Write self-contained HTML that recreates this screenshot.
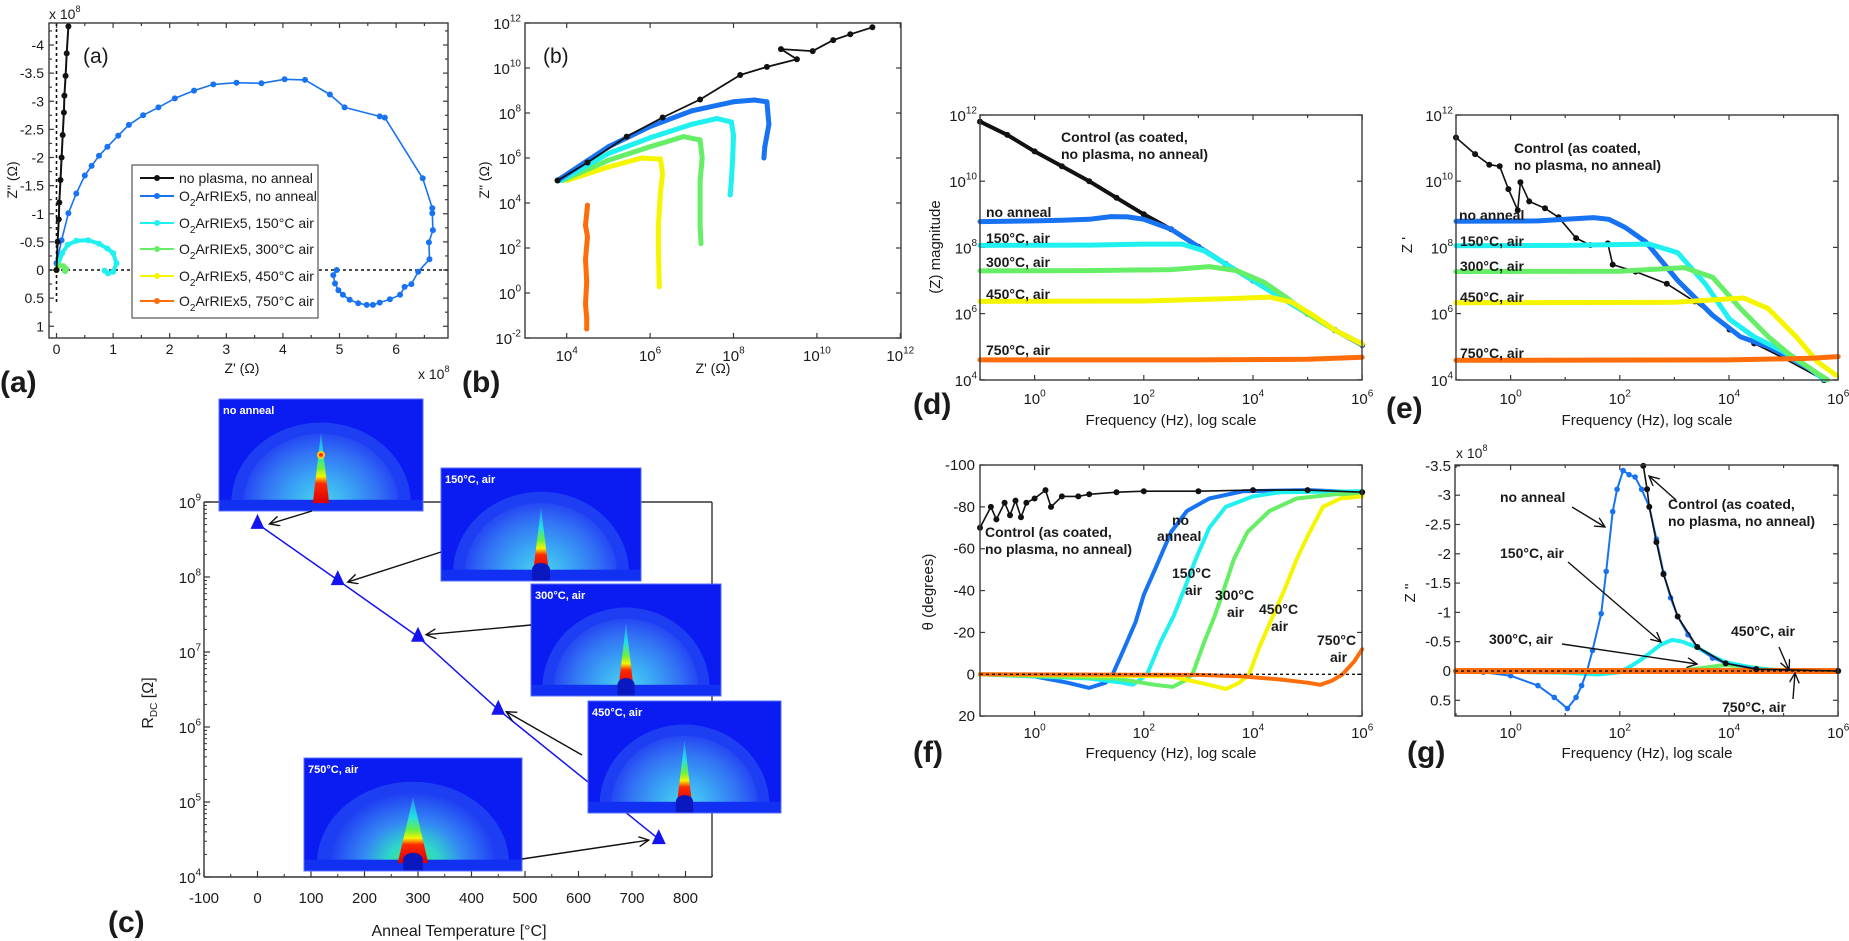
<!DOCTYPE html>
<html><head><meta charset="utf-8"><title>Impedance figure</title>
<style>html,body{margin:0;padding:0;background:#fff;}svg{display:block;}</style></head>
<body>
<svg id="fig" width="1849" height="941" viewBox="0 0 1849 941" xmlns="http://www.w3.org/2000/svg" font-family="'Liberation Sans', Arial, sans-serif">
<defs id="defs">
<marker id="arr" markerWidth="12" markerHeight="12" refX="10" refY="5" orient="auto" markerUnits="userSpaceOnUse"><path d="M0,0 L10,5 L0,10" fill="none" stroke="#111" stroke-width="1.4"/></marker>
<radialGradient id="dome" cx="0.5" cy="0.5" r="0.5"><stop offset="0" stop-color="#4ad8f0"/><stop offset="0.4" stop-color="#3aa6f4"/><stop offset="0.75" stop-color="#3272f4"/><stop offset="1" stop-color="#2548f3"/></radialGradient>
<radialGradient id="dome750" cx="0.5" cy="0.5" r="0.5"><stop offset="0" stop-color="#3cf05a"/><stop offset="0.3" stop-color="#2fd8c8"/><stop offset="0.6" stop-color="#3488f4"/><stop offset="1" stop-color="#2040f3"/></radialGradient>
<linearGradient id="spike" x1="0" y1="0" x2="0" y2="1"><stop offset="0" stop-color="#2a8cf5"/><stop offset="0.3" stop-color="#22e0e0"/><stop offset="0.5" stop-color="#6af040"/><stop offset="0.62" stop-color="#f5f500"/><stop offset="0.72" stop-color="#ff2a00"/><stop offset="1" stop-color="#d80000"/></linearGradient>
</defs>
</svg>
<script>
const NS='http://www.w3.org/2000/svg';
const svg=document.getElementById('fig');
const defs=document.getElementById('defs');

// ---------------- DATA ----------------
const aBlack=[[0,0],[0.02,-0.5],[0.04,-0.9],[0.05,-1.2],[0.07,-1.6],[0.09,-2.0],[0.11,-2.4],[0.13,-2.8],[0.14,-3.1],[0.16,-3.45],[0.18,-3.85],[0.21,-4.33]];
const aBlue=[[0,-0.12],[0.09,-0.53],[0.21,-1.01],[0.35,-1.36],[0.5,-1.68],[0.62,-1.85],[0.75,-2.03],[0.9,-2.19],[1.09,-2.39],[1.28,-2.58],[1.53,-2.75],[1.8,-2.89],[2.09,-3.05],[2.43,-3.19],[2.77,-3.3],[3.18,-3.33],[3.62,-3.32],[4.03,-3.39],[4.39,-3.38],[4.83,-3.12],[5.09,-2.89],[5.71,-2.73],[5.8,-2.71],[6.47,-1.63],[6.64,-1.1],[6.64,-1.01],[6.65,-0.71],[6.58,-0.49],[6.59,-0.19],[6.39,0.03],[6.27,0.25],[6.15,0.3],[6.07,0.44],[5.89,0.52],[5.71,0.58],[5.59,0.62],[5.48,0.62],[5.33,0.59],[5.18,0.53],[5.06,0.44],[4.98,0.36],[4.92,0.24],[4.89,0.09],[4.95,0]];
const aCyan=[[0,0],[0.03,-0.1],[0.1,-0.3],[0.2,-0.45],[0.35,-0.52],[0.56,-0.53],[0.75,-0.47],[0.9,-0.38],[1.0,-0.3],[1.06,-0.12],[1.0,0.03],[0.91,0.06],[0.85,0.01]];
const aGreen=[[0,0],[0.05,-0.08],[0.12,-0.07],[0.17,-0.02],[0.15,0.02]];
const aYellow=[[0,0]];
const aOrange=[[0,0]];
const aTicksY=[-4,-3.5,-3,-2.5,-2,-1.5,-1,-0.5,0,0.5,1];
const aTicksX=[0,1,2,3,4,5,6];
const aLegend=['no plasma, no anneal','O|2|ArRIEx5, no anneal','O|2|ArRIEx5, 150°C air','O|2|ArRIEx5, 300°C air','O|2|ArRIEx5, 450°C air','O|2|ArRIEx5, 750°C air'];

const bBlack=[[3.78,5.0],[4.5,5.8],[5.44,6.95],[6.3,7.8],[7.2,8.6],[8.16,9.69],[8.8,10.05],[9.52,10.39],[9.14,10.84],[9.9,10.75],[10.39,11.24],[10.8,11.5],[11.33,11.81]];
const bBlue=[[3.78,5.0],[5.0,6.5],[6.0,7.4],[7.0,8.1],[8.0,8.5],[8.5,8.58],[8.8,8.5],[8.85,7.5],[8.8,7.0],[8.75,6.5],[8.73,6.0]];
const bCyan=[[3.85,5.0],[5,6.2],[6,6.9],[7,7.5],[7.6,7.75],[7.95,7.6],[8.0,7.0],[7.98,6.0],[7.95,5.0],[7.92,4.36]];
const bGreen=[[3.9,5.0],[5,5.9],[6,6.5],[6.8,6.95],[7.2,6.8],[7.25,6],[7.2,5],[7.2,4],[7.2,3],[7.22,2.2]];
const bYellow=[[4.0,5.0],[5,5.6],[5.8,6.0],[6.25,5.95],[6.3,5.3],[6.25,4.5],[6.2,3],[6.2,2],[6.22,0.28]];
const bOrange=[[4.5,3.9],[4.45,3.0],[4.5,2.5],[4.45,1.5],[4.48,0.5],[4.45,-0.5],[4.48,-1.1],[4.48,-1.6]];
const bTicksY=[-2,0,2,4,6,8,10,12];
const bTicksX=[4,6,8,10,12];

const cTemps=[0,150,300,450,750];
const cRdc=[5.1e8,9.1e7,1.6e7,1.7e6,3.2e4];
const cTicksX=[-100,0,100,200,300,400,500,600,700,800];
const cTicksY=[4,5,6,7,8,9];

const dBlack=[[-1,11.8],[-0.5,11.4],[0,10.9],[0.5,10.45],[1,10],[1.5,9.5],[2,9.0],[2.5,8.55],[3,8.02],[3.5,7.5],[4,7.0],[4.5,6.5],[5,6.0],[5.5,5.5],[6,5.05]];
const dBlue=[[-1,8.78],[0,8.8],[0.5,8.82],[1,8.85],[1.4,8.93],[1.7,8.92],[2.0,8.85],[2.5,8.55],[3,8.02],[3.5,7.5],[4,7.0],[4.5,6.5],[5,6.0],[5.5,5.5],[6,5.05]];
const dCyan=[[-1,8.06],[1,8.07],[2,8.1],[2.7,8.1],[3.1,7.9],[3.5,7.5],[4,7.0],[4.5,6.5],[5,6.0],[5.5,5.5],[6,5.08]];
const dGreen=[[-1,7.29],[1,7.3],[2.5,7.33],[3.2,7.42],[3.7,7.3],[4.2,6.95],[4.6,6.5],[5,6.0],[5.5,5.5],[6,5.08]];
const dYellow=[[-1,6.37],[2,6.38],[3.5,6.45],[4.3,6.5],[4.7,6.35],[5.1,5.95],[5.5,5.5],[6,5.08]];
const dOrange=[[-1,4.6],[3,4.6],[5,4.62],[6,4.68]];
const logTicksY=[4,6,8,10,12];
const logTicksX=[0,2,4,6];

const eBlack=[[-1,11.32],[-0.65,10.82],[-0.39,10.5],[-0.2,10.45],[-0.04,9.76],[0.13,9.12],[0.18,9.97],[0.34,9.39],[0.63,9.18],[0.88,8.91],[1.2,8.28],[1.46,8.07],[1.78,8.12],[1.87,7.48],[2.29,7.27],[2.86,6.9],[3.37,6.37],[4.01,5.52],[4.46,5.1],[4.97,4.68],[5.74,3.99]];
const eBlue=[[-1,8.79],[0.5,8.8],[1.52,8.9],[1.8,8.85],[2.1,8.6],[2.48,8.16],[3.06,7.0],[3.7,5.95],[4.21,5.3],[4.72,5.0],[5.23,4.57],[5.8,4.0]];
const eCyan=[[-1,8.05],[1,8.06],[2.54,8.1],[3.06,7.84],[3.57,6.89],[4.01,5.83],[4.46,5.3],[4.97,4.88],[5.48,4.35],[5.74,4.0]];
const eGreen=[[-1,7.27],[2,7.28],[3.18,7.39],[3.7,7.1],[4.21,6.15],[4.72,5.3],[5.1,4.78],[5.48,4.35],[5.8,4.0]];
const eYellow=[[-1,6.33],[3,6.34],[4.27,6.47],[4.72,6.15],[5.23,5.3],[5.61,4.56],[5.96,4.14]];
const eOrange=[[-1,4.59],[4,4.6],[5.5,4.65],[6,4.7]];

const fBlack=[[-1,-70],[-0.8,-80],[-0.7,-74],[-0.55,-82],[-0.45,-76],[-0.35,-83],[-0.25,-75],[-0.15,-82],[0,-84],[0.2,-88],[0.3,-80],[0.5,-85],[0.8,-85],[1,-86],[1.5,-87],[2,-87.5],[3,-87.5],[4,-88],[5,-88],[6,-87]];
const fBlue=[[-1,0],[0,1],[0.6,4],[1,6.5],[1.3,4],[1.43,0],[1.6,-10],[1.85,-25],[2.0,-38],[2.22,-51],[2.5,-68],[2.79,-78],[3.2,-84],[3.82,-87.5],[5,-88],[6,-87]];
const fCyan=[[-1,0],[1,2],[1.6,4],[1.8,5],[2.06,0],[2.3,-15],[2.55,-28],[2.73,-40],[2.95,-55],[3.2,-70],[3.5,-80],[4,-85],[4.5,-87],[6,-87.5]];
const fGreen=[[-1,0],[1.5,2],[2.2,5],[2.53,6],[2.75,3],[2.89,0],[3.1,-15],[3.3,-28],[3.46,-40],[3.65,-55],[3.9,-68],[4.3,-78],[4.8,-84],[5.5,-86],[6,-86]];
const fYellow=[[-1,0],[2.5,1],[3.2,5],[3.51,7],[3.75,4],[3.93,0],[4.1,-12],[4.3,-24],[4.57,-40],[4.8,-55],[5.0,-66],[5.28,-80],[5.6,-84],[6,-85]];
const fOrange=[[-1,0],[3,0.3],[3.8,1],[4.5,2.5],[5,4],[5.23,5],[5.45,3],[5.64,0],[5.85,-6],[6,-12]];
const fTicksY=[-100,-80,-60,-40,-20,0,20];

const gBlack=[[2.43,-3.5],[2.5,-3.1],[2.54,-2.8],[2.67,-2.2],[2.8,-1.65],[3.06,-0.93],[3.42,-0.41],[3.94,-0.13],[4.5,-0.03],[6,0]];
const gBlue=[[-1,0],[-0.5,0.02],[0,0.08],[0.5,0.25],[0.8,0.45],[1.04,0.64],[1.2,0.45],[1.3,0.25],[1.4,0],[1.5,-0.35],[1.66,-0.98],[1.75,-1.7],[1.87,-2.72],[1.95,-3.1],[2.06,-3.42],[2.17,-3.35],[2.28,-3.31],[2.4,-3.1],[2.54,-2.8],[2.67,-2.25],[2.8,-1.67],[2.93,-1.25],[3.06,-0.93],[3.25,-0.62],[3.42,-0.41],[3.7,-0.22],[3.94,-0.13],[4.5,-0.04],[5,0],[6,0]];
const gCyan=[[-1,0],[1,0.03],[1.6,0.06],[2.0,0.02],[2.18,-0.07],[2.4,-0.2],[2.54,-0.3],[2.75,-0.45],[2.96,-0.53],[3.15,-0.5],[3.42,-0.4],[3.7,-0.25],[3.94,-0.15],[4.46,-0.05],[5,0],[6,0]];
const gGreen=[[-1,0],[3,0],[3.5,-0.05],[3.9,-0.1],[4.3,-0.08],[4.8,-0.02],[6,0]];
const gYellow=[[-1,0],[4.5,0],[5,-0.02],[5.5,0],[6,0]];
const gOrange=[[-1,0],[6,0]];
const gTicksY=[-3.5,-3,-2.5,-2,-1.5,-1,-0.5,0,0.5];

const COL={black:'#111',blue:'#1873f2',cyan:'#1ff0f0',green:'#66ee66',yellow:'#f5f500',orange:'#ff6d0a'};

// ---------------- helpers ----------------
function mk(tag,attrs,name,parent){
  const e=document.createElementNS(NS,tag);
  for(const k in attrs) e.setAttribute(k,attrs[k]);
  
  
  (parent||svg).appendChild(e);
  return e;
}
function txt(x,y,s,size,name,opt){
  opt=opt||{};
  const t=mk('text',{x:x,y:y,'font-size':size,'text-anchor':opt.anchor||'start','font-weight':opt.bold?'bold':'normal',fill:opt.fill||'#1a1a1a'},name,opt.parent);
  if(opt.rot) t.setAttribute('transform','rotate(-90 '+x+' '+y+')');
  t.textContent=s; return t;
}
function supText(x,y,base,exp,anchor,size,name){
  const t=mk('text',{x:x,y:y,'font-size':size,'text-anchor':anchor,fill:'#1a1a1a'},name);
  const a=document.createElementNS(NS,'tspan'); a.textContent=base; t.appendChild(a);
  const b=document.createElementNS(NS,'tspan'); b.setAttribute('dy',-size*0.5); b.setAttribute('font-size',Math.round(size*0.65)); b.textContent=exp; t.appendChild(b);
  return t;
}
function frame(x0,y0,x1,y1,name){
  mk('rect',{x:x0,y:y0,width:x1-x0,height:y1-y0,fill:'none',stroke:'#3a3a3a','stroke-width':1.4},name);
}
function tickX(X,y0,y1,len,name){
  mk('line',{x1:X,y1:y1,x2:X,y2:y1-len,stroke:'#3a3a3a','stroke-width':1.2},name);
  mk('line',{x1:X,y1:y0,x2:X,y2:y0+len,stroke:'#3a3a3a','stroke-width':1.2},name);
}
function tickY(Y,x0,x1,len,name){
  mk('line',{x1:x0,y1:Y,x2:x0+len,y2:Y,stroke:'#3a3a3a','stroke-width':1.2},name);
  mk('line',{x1:x1,y1:Y,x2:x1-len,y2:Y,stroke:'#3a3a3a','stroke-width':1.2},name);
}
function series(data,X,Y,color,width,name,dotR){
  const pts=data.map(p=>X(p[0]).toFixed(1)+','+Y(p[1]).toFixed(1)).join(' ');
  mk('polyline',{points:pts,fill:'none',stroke:color,'stroke-width':width,'stroke-linejoin':'round','stroke-linecap':'round'},name);
  if(dotR){
    const g=mk('g',{fill:color},name+'-markers');
    data.forEach(p=>{ mk('circle',{cx:X(p[0]).toFixed(1),cy:Y(p[1]).toFixed(1),r:dotR},name+'-point',g); });
  }
}
function arrow(x1,y1,x2,y2,name){
  mk('line',{x1:x1,y1:y1,x2:x2,y2:y2,stroke:'#111','stroke-width':1.4,'marker-end':'url(#arr)'},name||'annotation-arrow');
}

// ---------------- PANEL A ----------------
const aX=v=>56.5+56.6*v, aY=v=>270+56.25*v;
aTicksY.forEach(v=>{ tickY(aY(v),49,448,5,'a-y-tick'); txt(44,aY(v)+5,String(v),14,'a-y-tick-label',{anchor:'end'}); });
[-4.25,-3.75,-3.25,-2.75,-2.25,-1.75,-1.25,-0.75,-0.25,0.25,0.75].forEach(v=>tickY(aY(v),49,448,3,'a-y-minor-tick'));
aTicksX.forEach(v=>{ tickX(aX(v),23,338,5,'a-x-tick'); txt(aX(v),354,String(v),14,'a-x-tick-label',{anchor:'middle'}); });
[0.5,1.5,2.5,3.5,4.5,5.5,6.5].forEach(v=>tickX(aX(v),23,338,3,'a-x-minor-tick'));
mk('line',{x1:49,y1:aY(0),x2:448,y2:aY(0),stroke:'#111','stroke-width':1.6,'stroke-dasharray':'3,3'},'a-zero-line');
mk('line',{x1:aX(0),y1:23,x2:aX(0),y2:aY(0.6),stroke:'#111','stroke-width':1.6,'stroke-dasharray':'3,3'},'a-zero-vline');
series(aBlue,aX,aY,COL.blue,1.6,'a-series-no-anneal',3);
series(aCyan,aX,aY,COL.cyan,4,'a-series-150c',3);
series(aGreen,aX,aY,COL.green,3,'a-series-300c',3);
series(aYellow,aX,aY,COL.yellow,2,'a-series-450c',3);
series(aOrange,aX,aY,COL.orange,2,'a-series-750c',3);
series(aBlack,aX,aY,COL.black,2,'a-series-no-plasma',3);
frame(49,23,448,338,'a-plot-frame');
supText(49,19,'x 10','8','start',14,'a-y-multiplier');
supText(418,379,'x 10','8','start',14,'a-x-multiplier');
txt(83,63,'(a)',21,'a-inner-label');
txt(242,373,"Z' (Ω)",14,'a-x-axis-title',{anchor:'middle'});
txt(17,180,'Z" (Ω)',14,'a-y-axis-title',{anchor:'middle',rot:true});
mk('rect',{x:132,y:165,width:186,height:153,fill:'#fff',stroke:'#555','stroke-width':1.2},'a-legend-box');
const aLegCols=[COL.black,COL.blue,COL.cyan,COL.green,COL.yellow,COL.orange];
const aLegY=[178,196,223,249,276,301];
aLegend.forEach((s,i)=>{
  const y=aLegY[i];
  mk('line',{x1:140,y1:y,x2:174,y2:y,stroke:aLegCols[i],'stroke-width':2},'a-legend-swatch');
  mk('circle',{cx:157,cy:y,r:3,fill:aLegCols[i]},'a-legend-marker');
  const parts=s.split('|');
  const t=mk('text',{x:179,y:y+5,'font-size':14,fill:'#1a1a1a'},'a-legend-entry');
  if(parts.length===1){ t.textContent=s; }
  else {
    const a=document.createElementNS(NS,'tspan'); a.textContent=parts[0]; t.appendChild(a);
    const b=document.createElementNS(NS,'tspan'); b.setAttribute('dy',5); b.setAttribute('font-size',10); b.textContent=parts[1]; t.appendChild(b);
    const c=document.createElementNS(NS,'tspan'); c.setAttribute('dy',-5); c.textContent=parts[2]; t.appendChild(c);
  }
});
txt(0,392,'(a)',30,'panel-label-a',{bold:true});

// ---------------- PANEL B ----------------
const bX=l=>525+41.7*(l-3), bY=l=>23+22.5*(12-l);
bTicksY.forEach(v=>{ tickY(bY(v),525,901,5,'b-y-tick'); supText(521,bY(v)+6,'10',String(v),'end',15,'b-y-tick-label'); });
bTicksX.forEach(v=>{ tickX(bX(v),23,338,5,'b-x-tick'); supText(bX(v),361,'10',String(v),'middle',15,'b-x-tick-label'); });
series(bOrange,bX,bY,COL.orange,5,'b-series-750c',2.5);
series(bYellow,bX,bY,COL.yellow,5,'b-series-450c',2.5);
series(bGreen,bX,bY,COL.green,5,'b-series-300c',2.5);
series(bCyan,bX,bY,COL.cyan,5,'b-series-150c',2.5);
series(bBlue,bX,bY,COL.blue,5,'b-series-no-anneal',2.5);
series(bBlack,bX,bY,COL.black,1.8,'b-series-no-plasma',3);
frame(525,23,901,338,'b-plot-frame');
txt(543,63,'(b)',21,'b-inner-label');
txt(713,373,"Z' (Ω)",14,'b-x-axis-title',{anchor:'middle'});
txt(489,180,'Z" (Ω)',14,'b-y-axis-title',{anchor:'middle',rot:true});
txt(462,392,'(b)',30,'panel-label-b',{bold:true});

// ---------------- PANEL C ----------------
const cX=t=>204+(t+100)*0.535, cY=r=>502+75*(9-Math.log10(r));
mk('line',{x1:204,y1:502,x2:712,y2:502,stroke:'#333','stroke-width':1.6},'c-frame-top');
mk('line',{x1:712,y1:502,x2:712,y2:877,stroke:'#333','stroke-width':1.4},'c-frame-right');
mk('line',{x1:204,y1:502,x2:204,y2:877,stroke:'#333','stroke-width':1.4},'c-frame-left');
mk('line',{x1:204,y1:877,x2:712,y2:877,stroke:'#333','stroke-width':1.6},'c-frame-bottom');
cTicksY.forEach(v=>{
  const Y=502+75*(9-v);
  mk('line',{x1:204,y1:Y,x2:210,y2:Y,stroke:'#333','stroke-width':1.2},'c-y-tick');
  supText(201,Y+6,'10',String(v),'end',15,'c-y-tick-label');
  if(v<9){ for(let m=2;m<10;m++){ const Ym=Y-75*Math.log10(m); mk('line',{x1:204,y1:Ym,x2:207,y2:Ym,stroke:'#333','stroke-width':1},'c-y-minor-tick'); } }
});
cTicksX.forEach(v=>{
  mk('line',{x1:cX(v),y1:877,x2:cX(v),y2:871,stroke:'#333','stroke-width':1.2},'c-x-tick');
  mk('line',{x1:cX(v+50),y1:877,x2:cX(v+50),y2:874,stroke:'#333','stroke-width':1},'c-x-minor-tick');
  txt(cX(v),903,String(v),15,'c-x-tick-label',{anchor:'middle'});
});
mk('polyline',{points:cTemps.map((t,i)=>cX(t).toFixed(1)+','+cY(cRdc[i]).toFixed(1)).join(' '),fill:'none',stroke:'#1414f0','stroke-width':1.5},'c-rdc-line');
cTemps.forEach((t,i)=>{
  const x=cX(t), y=cY(cRdc[i]);
  mk('polygon',{points:(x)+','+(y-10)+' '+(x-7)+','+(y+5)+' '+(x+7)+','+(y+5),fill:'#1414f0'},'c-rdc-marker');
});
txt(459,936,'Anneal Temperature [°C]',16,'c-x-axis-title',{anchor:'middle'});
(function(){
  const t=mk('text',{x:153,y:703,'font-size':16,'text-anchor':'middle',fill:'#1a1a1a',transform:'rotate(-90 153 703)'},'c-y-axis-title');
  const a=document.createElementNS(NS,'tspan'); a.textContent='R'; t.appendChild(a);
  const b=document.createElementNS(NS,'tspan'); b.setAttribute('dy',4); b.setAttribute('font-size',10); b.textContent='DC'; t.appendChild(b);
  const c=document.createElementNS(NS,'tspan'); c.setAttribute('dy',-4); c.textContent=' [Ω]'; t.appendChild(c);
})();
function inset(x,y,w,h,label,kind){
  const cp=mk('clipPath',{id:'clip-'+kind},'inset-clip',defs);
  mk('rect',{x:x,y:y,width:w,height:h},'inset-clip-rect',cp);
  const g=mk('g',{},'c-inset-'+kind);
  const gi=mk('g',{'clip-path':'url(#clip-'+kind+')'},'inset-image',g);
  mk('rect',{x:x,y:y,width:w,height:h,fill:'#0b1cf2'},'inset-background',gi);
  const cx=x+w/2, by=y+h*0.93;
  mk('ellipse',{cx:cx,cy:by,rx:w*0.44,ry:h*0.72,fill:'#1e3ef3'},'inset-outer-halo',gi);
  mk('ellipse',{cx:cx,cy:by,rx:w*0.38,ry:h*0.62,fill:kind==='750'?'url(#dome750)':'url(#dome)'},'inset-dome',gi);
  mk('rect',{x:x,y:y+h*0.9,width:w,height:h*0.1,fill:'#1230f2'},'inset-bottom-band',gi);
  const top=y+h*(kind==='none'?0.3:0.35);
  const sw=w*(kind==='750'?0.07:0.04);
  mk('polygon',{points:cx+','+top+' '+(cx-sw)+','+(y+h*0.93)+' '+(cx+sw)+','+(y+h*0.93),fill:'url(#spike)'},'inset-spike',gi);
  if(kind==='none'){
    mk('circle',{cx:cx,cy:y+h*0.5,r:4,fill:'#ffcc00'},'inset-hotspot',gi);
    mk('circle',{cx:cx,cy:y+h*0.5,r:2,fill:'#ff3300'},'inset-hotspot-core',gi);
  } else {
    mk('path',{d:'M'+(cx-w*0.045)+','+(y+h)+' L'+(cx-w*0.045)+','+(y+h*0.9)+' A'+(w*0.045)+','+(h*0.06)+' 0 0 1 '+(cx+w*0.045)+','+(y+h*0.9)+' L'+(cx+w*0.045)+','+(y+h)+' Z',fill:'#0a18c0'},'inset-beamstop',gi);
  }
  mk('rect',{x:x,y:y,width:w,height:h,fill:'none',stroke:'#5a6cff','stroke-width':1},'inset-border',g);
  txt(x+4,y+15,label,11,'inset-label',{bold:true,fill:'#fff',parent:g});
}
inset(219,399,204,112,'no anneal','none');
inset(441,468,200,113,'150°C, air','150');
inset(531,584,190,112,'300°C, air','300');
inset(588,701,193,112,'450°C, air','450');
inset(304,758,218,113,'750°C, air','750');
arrow(312,511,cX(0)+12,cY(cRdc[0]));
arrow(441,552,cX(150)+10,cY(cRdc[1])+2);
arrow(531,625,cX(300)+8,cY(cRdc[2])-2);
arrow(582,755,cX(450)+8,cY(cRdc[3])+2);
arrow(522,859,cX(750)-10,cY(cRdc[4])+1);
txt(108,932,'(c)',30,'panel-label-c',{bold:true});

// ---------------- PANELS D/E/F/G ----------------
const dX=l=>980+54.6*(l+1), eX=l=>1456+54.6*(l+1);
const lY=l=>115+33.1*(12-l);
const fY=v=>674.3+2.093*v, gY=v=>671+58.6*v;
function logFreqAxis(X,x0,x1,y0,y1,labY,pfx){
  logTicksX.forEach(v=>{ tickX(X(v),y0,y1,5,pfx+'-x-tick'); supText(X(v),labY,'10',String(v),'middle',15,pfx+'-x-tick-label'); });
  [-1,1,3,5].forEach(v=>tickX(X(v),y0,y1,3,pfx+'-x-minor-tick'));
}
logTicksY.forEach(v=>{ tickY(lY(v),980,1362,5,'d-y-tick'); supText(977,lY(v)+6,'10',String(v),'end',15,'d-y-tick-label'); });
logFreqAxis(dX,980,1362,115,380,404,'d');
series(dBlack,dX,lY,COL.black,4,'d-series-control',3);
series(dBlue,dX,lY,COL.blue,5,'d-series-no-anneal');
series(dCyan,dX,lY,COL.cyan,5,'d-series-150c');
series(dGreen,dX,lY,COL.green,5,'d-series-300c');
series(dYellow,dX,lY,COL.yellow,5,'d-series-450c');
series(dOrange,dX,lY,COL.orange,5,'d-series-750c');
frame(980,115,1362,380,'d-plot-frame');
txt(1061,142,'Control (as coated,',14,'d-label-control',{bold:true});
txt(1061,159,'no plasma,  no anneal)',14,'d-label-control-2',{bold:true});
txt(986,217,'no anneal',14,'d-label-no-anneal',{bold:true});
txt(986,243,'150°C, air',14,'d-label-150c',{bold:true});
txt(986,267,'300°C, air',14,'d-label-300c',{bold:true});
txt(986,299,'450°C, air',14,'d-label-450c',{bold:true});
txt(986,355,'750°C, air',14,'d-label-750c',{bold:true});
txt(1171,425,'Frequency (Hz), log scale',15,'d-x-axis-title',{anchor:'middle'});
txt(940,247,'(Z) magnitude',15,'d-y-axis-title',{anchor:'middle',rot:true});
txt(913,414,'(d)',30,'panel-label-d',{bold:true});

logTicksY.forEach(v=>{ tickY(lY(v),1456,1838,5,'e-y-tick'); supText(1453,lY(v)+6,'10',String(v),'end',15,'e-y-tick-label'); });
logFreqAxis(eX,1456,1838,115,380,404,'e');
series(eBlack,eX,lY,COL.black,1.6,'e-series-control',3);
series(eBlue,eX,lY,COL.blue,5,'e-series-no-anneal');
series(eCyan,eX,lY,COL.cyan,5,'e-series-150c');
series(eGreen,eX,lY,COL.green,5,'e-series-300c');
series(eYellow,eX,lY,COL.yellow,5,'e-series-450c');
series(eOrange,eX,lY,COL.orange,5,'e-series-750c');
frame(1456,115,1838,380,'e-plot-frame');
txt(1514,153,'Control (as coated,',14,'e-label-control',{bold:true});
txt(1514,170,'no plasma,  no anneal)',14,'e-label-control-2',{bold:true});
txt(1459,220,'no anneal',14,'e-label-no-anneal',{bold:true});
txt(1460,246,'150°C, air',14,'e-label-150c',{bold:true});
txt(1460,271,'300°C, air',14,'e-label-300c',{bold:true});
txt(1460,302,'450°C, air',14,'e-label-450c',{bold:true});
txt(1460,358,'750°C, air',14,'e-label-750c',{bold:true});
txt(1647,425,'Frequency (Hz), log scale',15,'e-x-axis-title',{anchor:'middle'});
txt(1412,245,"Z '",15,'e-y-axis-title',{anchor:'middle',rot:true});
txt(1386,418,'(e)',30,'panel-label-e',{bold:true});

fTicksY.forEach(v=>{ tickY(fY(v),980,1362,5,'f-y-tick'); txt(975,fY(v)+5,String(v),15,'f-y-tick-label',{anchor:'end'}); });
logFreqAxis(dX,980,1362,465,716,738,'f');
series(fBlue,dX,fY,COL.blue,4,'f-series-no-anneal');
series(fCyan,dX,fY,COL.cyan,4,'f-series-150c');
series(fGreen,dX,fY,COL.green,4,'f-series-300c');
series(fYellow,dX,fY,COL.yellow,4,'f-series-450c');
series(fOrange,dX,fY,COL.orange,4,'f-series-750c');
series(fBlack,dX,fY,COL.black,1.6,'f-series-control',3);
mk('line',{x1:980,y1:fY(0),x2:1362,y2:fY(0),stroke:'#111','stroke-width':1.4,'stroke-dasharray':'3,3'},'f-zero-line');
frame(980,465,1362,716,'f-plot-frame');
txt(985,537,'Control (as coated,',14,'f-label-control',{bold:true});
txt(985,554,'no plasma,  no anneal)',14,'f-label-control-2',{bold:true});
txt(1172,525,'no',14,'f-label-no',{bold:true});
txt(1157,541,'anneal',14,'f-label-anneal',{bold:true});
txt(1172,578,'150°C',14,'f-label-150c',{bold:true});
txt(1185,595,'air',14,'f-label-150c-air',{bold:true});
txt(1215,600,'300°C',14,'f-label-300c',{bold:true});
txt(1227,617,'air',14,'f-label-300c-air',{bold:true});
txt(1259,614,'450°C',14,'f-label-450c',{bold:true});
txt(1271,631,'air',14,'f-label-450c-air',{bold:true});
txt(1317,645,'750°C',14,'f-label-750c',{bold:true});
txt(1330,662,'air',14,'f-label-750c-air',{bold:true});
txt(1171,758,'Frequency (Hz), log scale',15,'f-x-axis-title',{anchor:'middle'});
txt(933,592,'θ (degrees)',15,'f-y-axis-title',{anchor:'middle',rot:true});
txt(913,762,'(f)',30,'panel-label-f',{bold:true});

gTicksY.forEach(v=>{ tickY(gY(v),1455,1838,5,'g-y-tick'); txt(1451,gY(v)+5,String(v),15,'g-y-tick-label',{anchor:'end'}); });
logFreqAxis(eX,1455,1838,465,716,738,'g');
series(gYellow,eX,gY,COL.yellow,4,'g-series-450c');
series(gGreen,eX,gY,COL.green,4,'g-series-300c');
series(gCyan,eX,gY,COL.cyan,4,'g-series-150c');
series(gBlue,eX,gY,COL.blue,2,'g-series-no-anneal',2.8);
series(gOrange,eX,gY,COL.orange,6,'g-series-750c');
series(gBlack,eX,gY,COL.black,1.6,'g-series-control',3);
mk('line',{x1:1455,y1:gY(0),x2:1838,y2:gY(0),stroke:'#111','stroke-width':1.6,'stroke-dasharray':'3,3'},'g-zero-line');
frame(1455,465,1838,716,'g-plot-frame');
supText(1456,458,'x 10','8','start',14,'g-y-multiplier');
txt(1500,502,'no anneal',14,'g-label-no-anneal',{bold:true});
arrow(1572,507,1605,527);
txt(1668,509,'Control (as coated,',14,'g-label-control',{bold:true});
txt(1668,526,'no plasma,  no anneal)',14,'g-label-control-2',{bold:true});
arrow(1676,500,1649,476);
txt(1500,558,'150°C, air',14,'g-label-150c',{bold:true});
arrow(1568,562,1661,642);
txt(1489,644,'300°C, air',14,'g-label-300c',{bold:true});
arrow(1562,644,1697,664);
txt(1731,636,'450°C, air',14,'g-label-450c',{bold:true});
arrow(1779,647,1789,670);
txt(1722,712,'750°C, air',14,'g-label-750c',{bold:true});
arrow(1793,699,1795,673);
txt(1647,758,'Frequency (Hz), log scale',15,'g-x-axis-title',{anchor:'middle'});
txt(1415,593,"Z ''",15,'g-y-axis-title',{anchor:'middle',rot:true});
txt(1407,762,'(g)',30,'panel-label-g',{bold:true});
</script>
</body></html>
